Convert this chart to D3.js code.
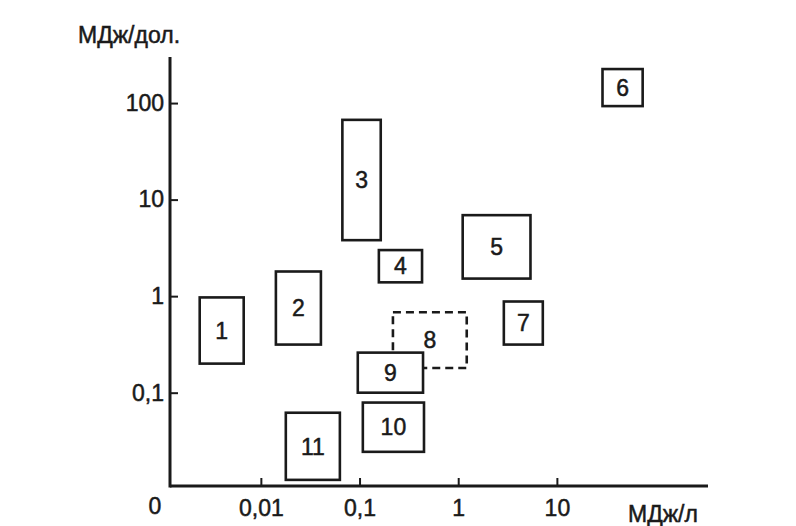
<!DOCTYPE html>
<html>
<head>
<meta charset="utf-8">
<script src="https://cdn.jsdelivr.net/npm/d3@7"></script>
<style>
  html, body { margin: 0; padding: 0; background: #fff; }
  text { font-family: "Liberation Sans", Arial, sans-serif; fill: #1a1a1a; stroke: #1a1a1a; stroke-width: 0.5px; }
</style>
</head>
<body>
<svg id="chart" width="796" height="526"></svg>
<script>
// ---- data ----
const boxIds   = ["1","2","3","4","5","6","7","8","9","10","11"];
const xLow     = [0.0024, 0.0142, 0.067, 0.157, 1.11, 29, 2.9, 0.218, 0.096, 0.108, 0.0179];
const xHigh    = [0.0067, 0.0406, 0.164, 0.43, 5.4, 74, 7.2, 1.22, 0.44, 0.45, 0.0632];
const yLow     = [0.2, 0.315, 3.8, 1.39, 1.52, 93, 0.315, 0.18, 0.1, 0.0244, 0.0125];
const yHigh    = [0.97, 1.8, 67, 3.0, 6.9, 225, 0.88, 0.68, 0.26, 0.079, 0.062];
const dashedIds = ["8"];
const xTickValues = [0.01, 0.1, 1, 10];
const xTickLabels = ["0,01", "0,1", "1", "10"];
const yTickValues = [0.1, 1, 10, 100];
const yTickLabels = ["0,1", "1", "10", "100"];
const originLabel = "0";
const xTitle = "МДж/л";
const yTitle = "МДж/дол.";

// ---- scales ----
const x = d3.scaleLog().domain([0.0012, 340]).range([170, 708]);
const y = d3.scaleLog().domain([0.0108, 300]).range([486, 57]);

const svg = d3.select("#chart");
const ink = "#1a1a1a";
const fontSize = 23;

// axes
const xAxis = d3.axisBottom(x).tickValues(xTickValues)
  .tickFormat((d, i) => xTickLabels[i]).tickSizeInner(-8).tickSizeOuter(0).tickPadding(20);
const gx = svg.append("g").attr("transform", `translate(0,${y.range()[0]})`).call(xAxis);
gx.select(".domain").remove();
gx.selectAll(".tick line").attr("stroke", ink).attr("stroke-width", 2);
gx.selectAll(".tick text").attr("font-size", fontSize).attr("dy", "0.45em").style("fill", ink);

const yAxis = d3.axisLeft(y).tickValues(yTickValues)
  .tickFormat((d, i) => yTickLabels[i]).tickSizeInner(-8).tickSizeOuter(0).tickPadding(6);
const gy = svg.append("g").attr("transform", `translate(${x.range()[0]},0)`).call(yAxis);
gy.select(".domain").remove();
gy.selectAll(".tick line").attr("stroke", ink).attr("stroke-width", 2);
gy.selectAll(".tick text").attr("font-size", fontSize).style("fill", ink);

// axis lines
svg.append("line")
  .attr("x1", x.range()[0]).attr("x2", x.range()[1])
  .attr("y1", y.range()[0]).attr("y2", y.range()[0])
  .attr("stroke", ink).attr("stroke-width", 3);
svg.append("line")
  .attr("x1", x.range()[0]).attr("x2", x.range()[0])
  .attr("y1", y.range()[0] + 1.5).attr("y2", y.range()[1])
  .attr("stroke", ink).attr("stroke-width", 3);

// origin + titles
svg.append("text").attr("x", x.range()[0] - 15).attr("y", y.range()[0] + 28)
  .attr("text-anchor", "middle").attr("font-size", fontSize).text(originLabel);
svg.append("text").attr("x", 628).attr("y", 522)
  .attr("font-size", fontSize).text(xTitle);
svg.append("text").attr("x", 78).attr("y", 43)
  .attr("font-size", fontSize).text(yTitle);

// boxes
const boxes = boxIds.map((id, i) => ({ id, x0: xLow[i], x1: xHigh[i], y0: yLow[i], y1: yHigh[i], dashed: dashedIds.includes(id) }));
boxes.sort((a, b) => (b.dashed ? 1 : 0) - (a.dashed ? 1 : 0));

const gb = svg.append("g").selectAll("g").data(boxes).join("g");
gb.append("rect")
  .attr("x", d => x(d.x0))
  .attr("y", d => y(d.y1))
  .attr("width", d => x(d.x1) - x(d.x0))
  .attr("height", d => y(d.y0) - y(d.y1))
  .attr("fill", d => d.dashed ? "none" : "#fff")
  .attr("stroke", ink)
  .attr("stroke-width", 2.6)
  .attr("stroke-dasharray", d => d.dashed ? "8,5" : null);
gb.append("text")
  .attr("x", d => x(Math.sqrt(d.x0 * d.x1)))
  .attr("y", d => y(Math.sqrt(d.y0 * d.y1)))
  .attr("text-anchor", "middle")
  .attr("dy", "0.36em")
  .attr("font-size", fontSize)
  .text(d => d.id);
</script>
</body>
</html>
